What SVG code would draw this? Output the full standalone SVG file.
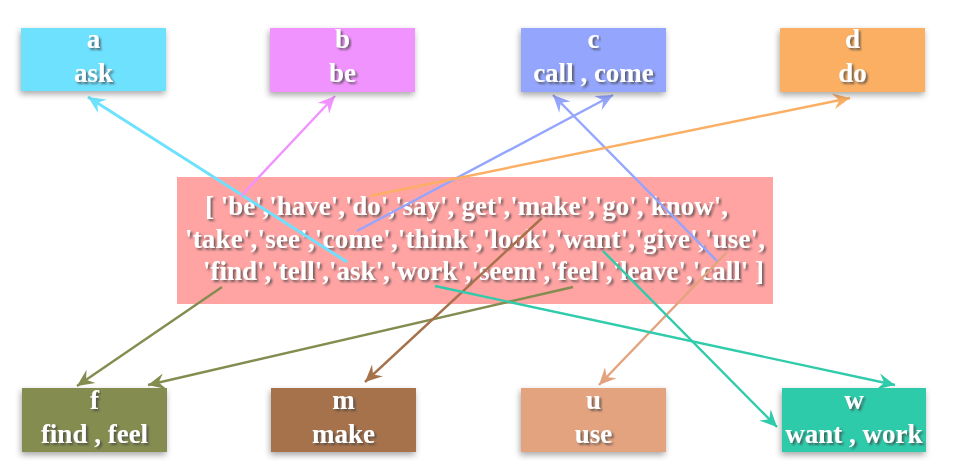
<svg xmlns="http://www.w3.org/2000/svg" width="969" height="461" viewBox="0 0 969 461">
<defs>
<filter id="boxsh" x="-20%" y="-20%" width="140%" height="150%">
<feDropShadow dx="-1" dy="3" stdDeviation="3" flood-color="#000" flood-opacity="0.35"/>
</filter>
<filter id="txtsh" x="-10%" y="-20%" width="120%" height="160%">
<feDropShadow dx="2" dy="2" stdDeviation="1.2" flood-color="#444" flood-opacity="0.75"/>
</filter>
<marker id="ma" viewBox="-18 -9 20 18" refX="0" refY="0" markerWidth="20" markerHeight="18" markerUnits="userSpaceOnUse" orient="auto"><path d="M0,0 L-17,-8 L-11,0 L-17,8 Z" fill="#6de1fe"/></marker>
<marker id="mb" viewBox="-18 -9 20 18" refX="0" refY="0" markerWidth="20" markerHeight="18" markerUnits="userSpaceOnUse" orient="auto"><path d="M0,0 L-17,-8 L-11,0 L-17,8 Z" fill="#f193fe"/></marker>
<marker id="mc" viewBox="-18 -9 20 18" refX="0" refY="0" markerWidth="20" markerHeight="18" markerUnits="userSpaceOnUse" orient="auto"><path d="M0,0 L-17,-8 L-11,0 L-17,8 Z" fill="#94a5fe"/></marker>
<marker id="md" viewBox="-18 -9 20 18" refX="0" refY="0" markerWidth="20" markerHeight="18" markerUnits="userSpaceOnUse" orient="auto"><path d="M0,0 L-17,-8 L-11,0 L-17,8 Z" fill="#fbaf64"/></marker>
<marker id="mf" viewBox="-18 -9 20 18" refX="0" refY="0" markerWidth="20" markerHeight="18" markerUnits="userSpaceOnUse" orient="auto"><path d="M0,0 L-17,-8 L-11,0 L-17,8 Z" fill="#848c4f"/></marker>
<marker id="mm" viewBox="-18 -9 20 18" refX="0" refY="0" markerWidth="20" markerHeight="18" markerUnits="userSpaceOnUse" orient="auto"><path d="M0,0 L-17,-8 L-11,0 L-17,8 Z" fill="#a6724b"/></marker>
<marker id="mu" viewBox="-18 -9 20 18" refX="0" refY="0" markerWidth="20" markerHeight="18" markerUnits="userSpaceOnUse" orient="auto"><path d="M0,0 L-17,-8 L-11,0 L-17,8 Z" fill="#e4a37f"/></marker>
<marker id="mw" viewBox="-18 -9 20 18" refX="0" refY="0" markerWidth="20" markerHeight="18" markerUnits="userSpaceOnUse" orient="auto"><path d="M0,0 L-17,-8 L-11,0 L-17,8 Z" fill="#2fcbab"/></marker>
</defs>
<style>
.node rect { filter: url(#boxsh); }
.t { font-family: "Liberation Serif", "Times New Roman", serif; font-weight: bold; fill: #ffffff; filter: url(#txtsh); }
.nt { font-size: 27px; text-anchor: middle; }
.ct { font-size: 27px; }
.edges line { fill: none; stroke-width: 2.4; }
</style>
<rect width="969" height="461" fill="#ffffff"/>

<g id="center">
<rect x="177" y="177" width="596" height="127" fill="#ffa3a3"/>
<text class="t ct" x="205" y="215" textLength="523" lengthAdjust="spacing">[ 'be','have','do','say','get','make','go','know',</text>
<text class="t ct" x="185" y="248" textLength="580" lengthAdjust="spacing">'take','see','come','think','look','want','give','use',</text>
<text class="t ct" x="203" y="280" textLength="561" lengthAdjust="spacing">'find','tell','ask','work','seem','feel','leave','call' ]</text>
</g>

<g id="edges" class="edges">
<line x1="347" y1="262" x2="88" y2="97" stroke="#6de1fe" style="stroke-width:3" marker-end="url(#ma)"/>
<line x1="241" y1="196" x2="335" y2="96" stroke="#f193fe" marker-end="url(#mb)"/>
<line x1="357" y1="231" x2="613" y2="95" stroke="#94a5fe" marker-end="url(#mc)"/>
<line x1="718" y1="262" x2="553" y2="95" stroke="#94a5fe" marker-end="url(#mc)"/>
<line x1="370" y1="196" x2="850" y2="98" stroke="#fbaf64" marker-end="url(#md)"/>
<line x1="222" y1="287" x2="77" y2="386" stroke="#848c4f" marker-end="url(#mf)"/>
<line x1="573" y1="287" x2="148" y2="385" stroke="#848c4f" marker-end="url(#mf)"/>
<line x1="542" y1="218" x2="365" y2="382" stroke="#a6724b" marker-end="url(#mm)"/>
<line x1="727" y1="252" x2="599" y2="385" stroke="#e4a37f" marker-end="url(#mu)"/>
<line x1="603" y1="251" x2="777" y2="427" stroke="#2fcbab" marker-end="url(#mw)"/>
<line x1="435" y1="286" x2="895" y2="385" stroke="#2fcbab" marker-end="url(#mw)"/>
</g>

<g id="node-a" class="node">
<rect x="21" y="28" width="145" height="63" fill="#6de1fe"/>
<text class="t nt" x="93.5" y="48">a</text>
<text class="t nt" x="93.5" y="82">ask</text>
</g>
<g id="node-b" class="node">
<rect x="270" y="28" width="145" height="64" fill="#f193fe"/>
<text class="t nt" x="342.5" y="48">b</text>
<text class="t nt" x="342.5" y="82">be</text>
</g>
<g id="node-c" class="node">
<rect x="521" y="28" width="145" height="64" fill="#94a5fe"/>
<text class="t nt" x="593.5" y="48">c</text>
<text class="t nt" x="593.5" y="82">call , come</text>
</g>
<g id="node-d" class="node">
<rect x="780" y="28" width="145" height="64" fill="#fbaf64"/>
<text class="t nt" x="852.5" y="48">d</text>
<text class="t nt" x="852.5" y="82">do</text>
</g>
<g id="node-f" class="node">
<rect x="22" y="388" width="145" height="64" fill="#848c4f"/>
<text class="t nt" x="94.5" y="409">f</text>
<text class="t nt" x="94.5" y="443">find , feel</text>
</g>
<g id="node-m" class="node">
<rect x="271" y="388" width="145" height="64" fill="#a6724b"/>
<text class="t nt" x="343.5" y="409">m</text>
<text class="t nt" x="343.5" y="443">make</text>
</g>
<g id="node-u" class="node">
<rect x="521" y="388" width="145" height="64" fill="#e4a37f"/>
<text class="t nt" x="593.5" y="409">u</text>
<text class="t nt" x="593.5" y="443">use</text>
</g>
<g id="node-w" class="node">
<rect x="782" y="388" width="144" height="64" fill="#2fcbab"/>
<text class="t nt" x="854" y="409">w</text>
<text class="t nt" x="854" y="443">want , work</text>
</g>
</svg>
